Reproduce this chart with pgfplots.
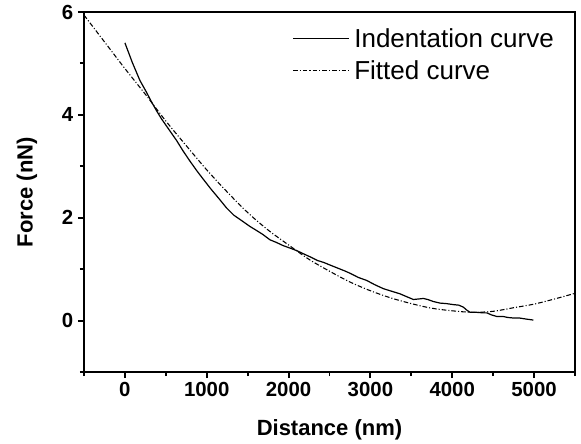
\documentclass[border=0pt]{standalone}
\usepackage{pgfplots}
\pgfplotsset{compat=1.18}
\usepackage{fontspec}
\setmainfont{Liberation Sans}
\begin{document}
\begin{tikzpicture}
\begin{axis}[
  name=ax, at={(0,0)}, anchor=south west,
  scale only axis, width=368.25pt, height=270pt,
  xmin=-500, xmax=5500, ymin=-1, ymax=6,
  xtick={0,1000,2000,3000,4000,5000},
  minor xtick={-500,500,1500,2500,3500,4500,5500},
  ytick={0,2,4,6}, minor ytick={-1,1,3,5},
  tick pos=left, tick align=outside,
  major tick length=4.5pt, minor tick length=3pt,
  axis line style={line width=1.6pt},
  every tick/.style={line width=1.4pt, black},
  scaled x ticks=false,
  /pgf/number format/assume math mode=true,
  /pgf/number format/set thousands separator={},
  tick label style={font=\fontsize{15.3}{15.3}\selectfont\bfseries},
  xlabel={Distance (nm)}, ylabel={Force (nN)},
  label style={font=\fontsize{16.5}{16.5}\selectfont\bfseries},
  xlabel style={at={(axis description cs:0.5,-0.161)}, anchor=center},
  ylabel style={at={(axis description cs:-0.1161,0.5)}, anchor=center},
  legend style={at={(axis description cs:0.424,0.963)}, anchor=north west, draw=none, fill=none,
    inner sep=0pt, row sep=4.5pt, font=\fontsize{19.5}{19.5}\selectfont,
    nodes={inner xsep=3.5pt, inner ysep=2pt}},
  legend cell align=left,
  legend image code/.code={\draw[#1] (0pt,0pt) -- (42pt,0pt);},
]
\addplot[black, line width=0.9pt] coordinates {
(0,5.40) (90,5.02) (183,4.67) (260,4.45) (326,4.25) (390,4.07) (448,3.92) (540,3.71)
(632,3.50) (710,3.30) (795,3.10) (880,2.91) (957,2.75) (1050,2.56) (1150,2.37) (1242,2.19)
(1330,2.05) (1430,1.94) (1528,1.83) (1600,1.76) (1680,1.68) (1773,1.57) (1850,1.52) (1930,1.46)
(2017,1.41) (2100,1.36) (2180,1.30) (2262,1.24) (2350,1.17) (2430,1.13) (2506,1.08) (2600,1.02)
(2680,0.97) (2751,0.92) (2850,0.84) (2955,0.78) (3050,0.70) (3159,0.62) (3260,0.57) (3362,0.52)
(3450,0.46) (3525,0.41) (3590,0.42) (3647,0.43) (3700,0.41) (3770,0.37) (3850,0.34) (3930,0.33)
(4015,0.31) (4080,0.30) (4137,0.26) (4180,0.20) (4218,0.16) (4300,0.16) (4380,0.15) (4422,0.15)
(4480,0.11) (4544,0.08) (4620,0.08) (4680,0.06) (4747,0.05) (4820,0.05) (4900,0.03) (4991,0.01)
};
\addlegendentry{Indentation curve}
\addplot[black, line width=0.8pt, smooth, dash pattern=on 3.5pt off 1.5pt on 0.8pt off 1.5pt] coordinates {
(-500,5.94) (-250,5.42) (0,4.90) (250,4.40) (500,3.88) (750,3.40) (1000,2.93) (1250,2.50)
(1500,2.10) (1750,1.76) (2000,1.47) (2250,1.19) (2500,0.96) (2750,0.75) (3000,0.58) (3250,0.44)
(3500,0.33) (3750,0.24) (4000,0.19) (4250,0.16) (4500,0.18) (4750,0.25) (5000,0.32) (5250,0.42) (5500,0.53)
};
\addlegendentry{Fitted curve}
\end{axis}
\pgfresetboundingbox
\path[use as bounding box] (-63pt,-53.25pt) rectangle (372.75pt,279pt);
\end{tikzpicture}
\end{document}
